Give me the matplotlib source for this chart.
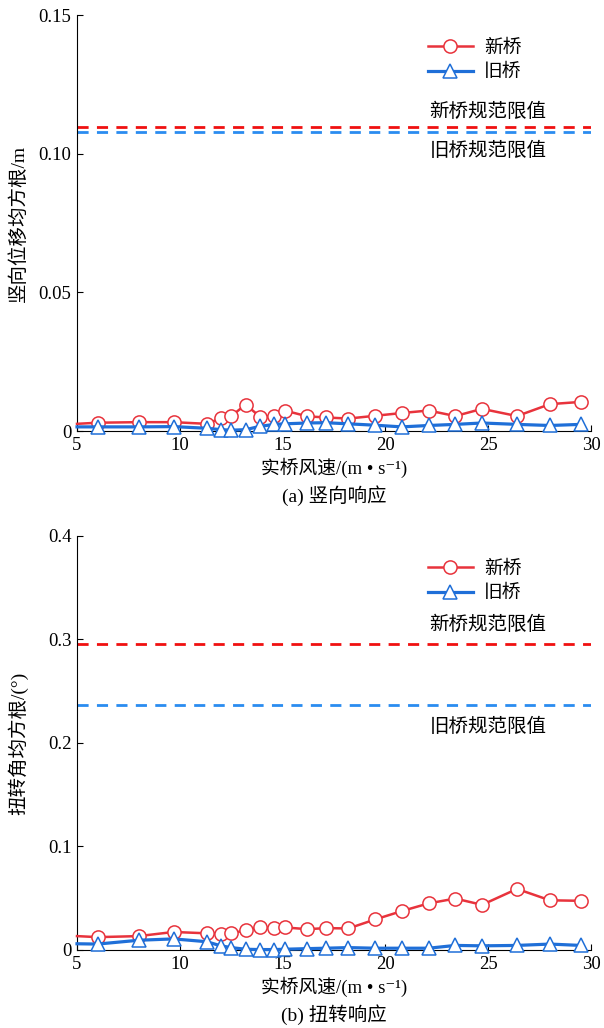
import numpy as np
import matplotlib
matplotlib.use("Agg")
import matplotlib.pyplot as plt

plt.rcParams['font.family'] = ['Liberation Serif', 'Noto Sans CJK SC', 'DejaVu Sans']

# wind speed (m/s)
ws = [5, 6, 8, 9.7, 11.3, 12, 12.5, 13.2, 13.9, 14.6, 15.1, 16.2, 17.1, 18.2,
      19.5, 20.8, 22.1, 23.4, 24.7, 26.4, 28, 29.5]

# (a) vertical RMS displacement, m
vert_new = [0.0026, 0.0030, 0.0032, 0.0032, 0.0026, 0.0046, 0.0054, 0.0095, 0.0052,
            0.0055, 0.0074, 0.0053, 0.0049, 0.0045, 0.0055, 0.0065, 0.0074, 0.0054,
            0.0080, 0.0054, 0.0097, 0.0105]
vert_old = [0.0015, 0.0015, 0.0015, 0.0016, 0.0010, 0.0005, 0.0003, 0.0005, 0.0017,
            0.0024, 0.0026, 0.0029, 0.0030, 0.0026, 0.0021, 0.0015, 0.0020, 0.0024,
            0.0029, 0.0024, 0.0020, 0.0024]
vert_lim_new = 0.1098
vert_lim_old = 0.1079

# (b) torsional RMS angle, deg
tors_new = [0.0134, 0.0124, 0.0134, 0.0174, 0.0161, 0.0158, 0.0160, 0.0191, 0.0218,
            0.0211, 0.0218, 0.0201, 0.0211, 0.0208, 0.0295, 0.0376, 0.0450, 0.0497,
            0.0436, 0.0590, 0.0480, 0.0475]
tors_old = [0.0060, 0.0057, 0.0094, 0.0107, 0.0080, 0.0040, 0.0023, 0.0007, 0.0004,
            0.0004, 0.0007, 0.0013, 0.0017, 0.0023, 0.0017, 0.0017, 0.0017, 0.0044,
            0.0040, 0.0044, 0.0057, 0.0044]
tors_lim_new = 0.2952
tors_lim_old = 0.2365

red = '#e8333c'
blue = '#1f6fd8'
red_d = '#f01010'
blue_d = '#2a8cf0'

fig = plt.figure(figsize=(6.04, 10.28), dpi=100)
ax1 = fig.add_axes([0.1275, 0.5807, 0.851, 0.4047])
ax2 = fig.add_axes([0.1275, 0.0759, 0.851, 0.4027])

def draw(ax, y_new, y_old, lim_new, lim_old, ymax, yticks, ylabels, ylab, cap,
         leg_y, txt_new_y, txt_old_y):
    mk = list(range(1, len(ws)))
    ax.plot(ws, y_new, color=red, lw=1.8, marker='o', ms=9.5, mfc='white',
            mec=red, mew=1.1, markevery=mk, clip_on=False, label='新桥', zorder=3)
    ax.plot(ws, y_old, color=blue, lw=2.3, marker='^', ms=10.5, mfc='white',
            mec=blue, mew=1.1, markevery=mk, clip_on=False, label='旧桥', zorder=4)
    ax.axhline(lim_new, color=red_d, lw=2, dashes=(4, 3))
    ax.axhline(lim_old, color=blue_d, lw=2, dashes=(4, 3))
    ax.text(25.0, txt_new_y, '新桥规范限值', fontsize=14, ha='center', va='center')
    ax.text(25.0, txt_old_y, '旧桥规范限值', fontsize=14, ha='center', va='center')
    ax.set_xlim(5, 30)
    ax.set_ylim(0, ymax)
    ax.set_xticks([5, 10, 15, 20, 25, 30])
    ax.set_yticks(yticks)
    ax.set_yticklabels(ylabels)
    ax.spines['top'].set_visible(False)
    ax.spines['right'].set_visible(False)
    ax.tick_params(direction='in', length=4, labelsize=13.5, pad=4)
    ax.set_ylabel(ylab, fontsize=14)
    ax.yaxis.set_label_coords(-0.095, 0.5)
    ax.set_xlabel('实桥风速/(m • s⁻¹)', fontsize=13.5, labelpad=3)
    ax.text(0.5, -0.155, cap, transform=ax.transAxes, fontsize=14,
            ha='center', va='center')
    ax.legend(loc='upper left', bbox_to_anchor=(0.668, leg_y), frameon=False,
              fontsize=13.5, handlelength=2.4, handletextpad=0.6,
              labelspacing=0.4, borderaxespad=0)

draw(ax1, vert_new, vert_old, vert_lim_new, vert_lim_old, 0.15,
     [0, 0.05, 0.10, 0.15], ['0', '0.05', '0.10', '0.15'],
     '竖向位移均方根/m', '(a) 竖向响应', 0.96, 0.1151, 0.1011)
draw(ax2, tors_new, tors_old, tors_lim_new, tors_lim_old, 0.4,
     [0, 0.1, 0.2, 0.3, 0.4], ['0', '0.1', '0.2', '0.3', '0.4'],
     '扭转角均方根/(°)', '(b) 扭转响应', 0.96, 0.3144, 0.2154)

fig.savefig('out.png', dpi=100)
